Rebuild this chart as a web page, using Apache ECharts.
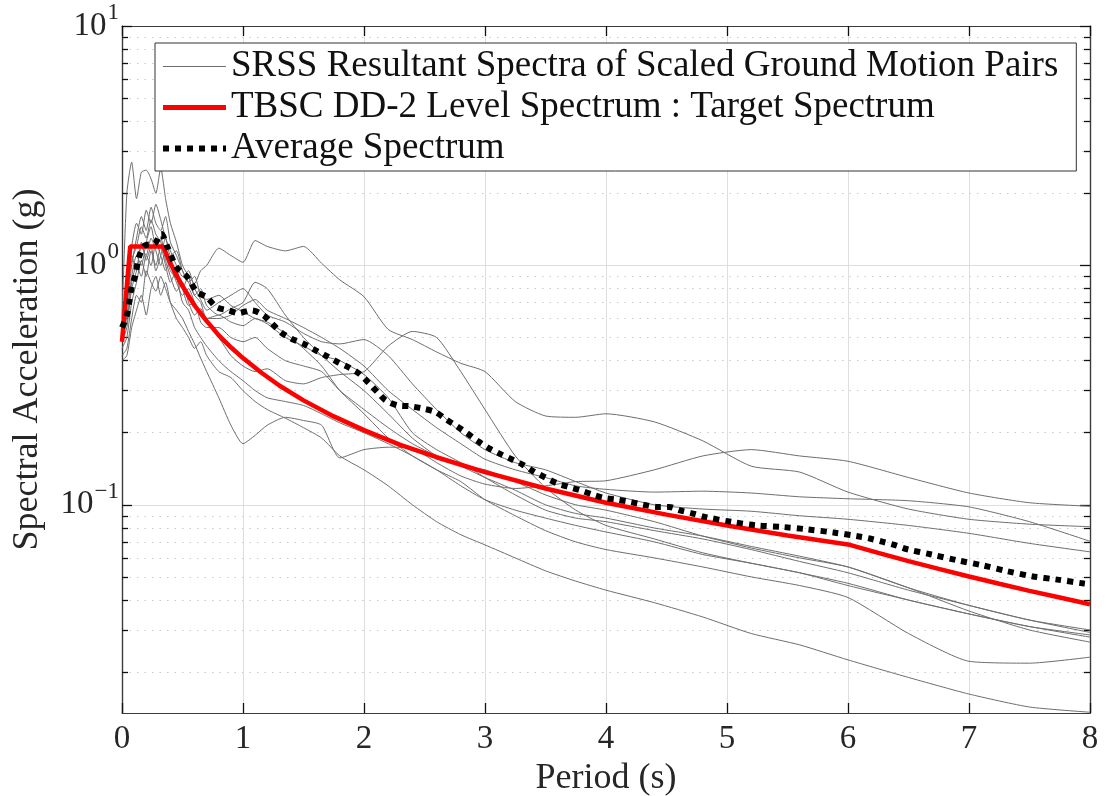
<!DOCTYPE html>
<html><head><meta charset="utf-8">
<script src="https://cdn.jsdelivr.net/npm/echarts@6/dist/echarts.min.js"></script>
<style>html,body{margin:0;padding:0;background:#fff}#c{width:1106px;height:796px}</style>
</head><body><div id="c"></div>
<script>
// ---- data ----
const periods = [0,0.04,0.08,0.12,0.16,0.2,0.24,0.28,0.32,0.36,0.4,0.45,0.5,0.55,0.6,0.65,0.7,0.8,0.9,1.0,1.1,1.2,1.35,1.5,1.65,1.8,2.0,2.2,2.4,2.6,2.8,3.0,3.25,3.5,3.75,4.0,4.4,4.8,5.2,5.6,6.0,6.5,7.0,7.5,8.0];
const gm1  = [0.55,0.75,1.05,1.2,1.45,1.3,1.55,1.35,1.25,1.1,0.95,0.88,0.8,0.9,0.84,0.95,1.0,1.18,1.1,1.03,1.27,1.2,1.15,1.2,1.02,0.87,0.74,0.54,0.49,0.435,0.39,0.36,0.27,0.235,0.232,0.24,0.222,0.185,0.145,0.137,0.113,0.096,0.087,0.083,0.081];
const gm2  = [0.42,0.45,0.6,0.75,0.7,0.95,0.85,0.78,0.9,0.8,0.7,0.65,0.6,0.53,0.47,0.41,0.36,0.28,0.215,0.18,0.195,0.215,0.232,0.225,0.215,0.157,0.17,0.174,0.172,0.15,0.132,0.122,0.117,0.12,0.125,0.126,0.14,0.16,0.17,0.16,0.152,0.13,0.112,0.102,0.0986];
const gm3  = [0.5,0.62,0.9,1.1,1.0,1.25,1.45,1.2,1.3,1.05,0.9,0.78,0.85,0.7,0.62,0.66,0.58,0.5,0.42,0.38,0.36,0.37,0.33,0.32,0.34,0.35,0.36,0.46,0.53,0.5,0.36,0.25,0.16,0.118,0.095,0.082,0.072,0.063,0.057,0.052,0.046,0.04,0.035,0.031,0.0286];
const gm4  = [0.48,0.55,0.8,0.95,1.2,1.1,1.3,1.15,1.0,1.15,1.0,0.85,0.75,0.8,0.7,0.62,0.6,0.6,0.62,0.68,0.72,0.65,0.6,0.55,0.5,0.45,0.38,0.3,0.25,0.21,0.18,0.155,0.14,0.13,0.12,0.116,0.113,0.114,0.112,0.108,0.106,0.104,0.098,0.085,0.0704];
const gm5  = [0.58,0.8,1.2,1.5,1.35,1.7,1.5,1.8,1.55,1.3,1.15,1.0,0.9,0.95,0.8,0.72,0.65,0.7,0.75,0.8,0.7,0.62,0.58,0.52,0.48,0.47,0.49,0.42,0.32,0.25,0.2,0.17,0.15,0.14,0.125,0.112,0.1,0.096,0.094,0.09,0.087,0.082,0.076,0.069,0.0636];
const gm6  = [0.6,2.0,2.7,1.9,2.45,2.5,2.3,2.0,2.55,1.9,1.5,1.25,1.0,0.9,0.75,0.8,0.68,0.62,0.66,0.7,0.85,0.8,0.62,0.5,0.42,0.36,0.3,0.24,0.19,0.16,0.145,0.13,0.115,0.1,0.092,0.088,0.08,0.074,0.067,0.061,0.055,0.045,0.038,0.033,0.030];
const gm7  = [0.45,0.5,0.7,0.85,1.05,0.9,1.15,1.0,1.2,1.0,0.85,0.95,0.8,0.68,0.7,0.58,0.55,0.55,0.5,0.48,0.5,0.45,0.4,0.38,0.36,0.3,0.25,0.21,0.18,0.16,0.145,0.14,0.125,0.11,0.1,0.095,0.085,0.074,0.066,0.06,0.055,0.045,0.036,0.03,0.0267];
const gm8  = [0.52,0.68,1.0,1.3,1.6,1.4,1.75,1.5,1.4,1.6,1.25,1.1,0.95,0.85,0.9,0.75,0.72,0.75,0.68,0.64,0.6,0.58,0.52,0.45,0.38,0.3,0.24,0.19,0.16,0.14,0.125,0.105,0.09,0.078,0.07,0.065,0.06,0.055,0.05,0.046,0.041,0.029,0.0222,0.0218,0.0231];
const gm9  = [0.4,0.42,0.55,0.65,0.75,0.62,0.8,0.9,0.75,0.85,0.7,0.6,0.55,0.5,0.45,0.48,0.42,0.36,0.34,0.3,0.27,0.25,0.23,0.21,0.19,0.16,0.14,0.12,0.1,0.085,0.075,0.068,0.06,0.053,0.048,0.044,0.039,0.034,0.029,0.026,0.0225,0.019,0.0162,0.0143,0.0136];
const gm10 = [0.5,0.58,0.85,1.0,0.9,1.1,1.0,1.25,1.1,0.95,1.05,0.9,0.7,0.65,0.55,0.5,0.46,0.4,0.36,0.33,0.3,0.28,0.27,0.26,0.24,0.22,0.2,0.18,0.16,0.14,0.12,0.105,0.095,0.088,0.082,0.077,0.07,0.062,0.057,0.052,0.047,0.04,0.035,0.031,0.028];
const gm11 = [0.55,0.7,1.1,0.95,1.25,1.05,1.2,0.95,1.1,1.3,1.1,1.15,0.95,0.85,0.75,0.7,0.6,0.62,0.58,0.56,0.6,0.57,0.5,0.46,0.42,0.4,0.35,0.28,0.2,0.17,0.15,0.13,0.11,0.095,0.088,0.085,0.078,0.072,0.065,0.058,0.052,0.044,0.038,0.033,0.0293];
const groundMotions = [gm1,gm2,gm3,gm4,gm5,gm6,gm7,gm8,gm9,gm10,gm11];

const targetPeriods = [0,0.068,0.34,0.375,0.4,0.45,0.5,0.55,0.6,0.65,0.7,0.75,0.8,0.9,1.0,1.15,1.3,1.5,1.75,2.0,2.3,2.6,3.0,3.5,4.0,4.5,5.0,5.5,5.75,6.0,6.25,6.5,6.75,7.0,7.25,7.5,7.75,8.0];
const targetValues  = [0.48,1.2,1.2,1.09,1.02,0.91,0.82,0.745,0.68,0.63,0.585,0.547,0.51,0.455,0.41,0.357,0.315,0.273,0.234,0.205,0.178,0.158,0.137,0.117,0.102,0.091,0.082,0.0745,0.0713,0.0683,0.063,0.0582,0.054,0.0502,0.0468,0.0437,0.041,0.0384];

const avgPeriods = [0,0.04,0.06,0.08,0.11,0.14,0.19,0.27,0.325,0.37,0.45,0.54,0.62,0.7,0.78,0.88,0.96,1.07,1.17,1.24,1.31,1.4,1.5,1.6,1.68,1.78,1.87,1.96,2.04,2.11,2.18,2.28,2.38,2.49,2.59,2.68,2.77,2.85,2.94,3.03,3.12,3.22,3.31,3.4,3.5,3.59,3.69,3.79,3.89,3.99,4.09,4.2,4.31,4.42,4.52,4.61,4.72,4.82,5.04,5.24,5.46,5.66,5.88,6.08,6.18,6.29,6.39,6.49,6.69,6.9,7.11,7.31,7.52,7.73,7.95,8.0];
const avgValues  = [0.55,0.618,0.703,0.812,0.908,1.083,1.212,1.232,1.356,1.212,0.984,0.894,0.774,0.737,0.67,0.649,0.632,0.649,0.618,0.571,0.527,0.494,0.471,0.442,0.421,0.395,0.376,0.353,0.3225,0.296,0.273,0.26,0.258,0.252,0.244,0.227,0.2127,0.1994,0.1847,0.1726,0.1636,0.1549,0.1472,0.138,0.1299,0.1233,0.1187,0.1149,0.1103,0.1068,0.1052,0.1028,0.1,0.098,0.098,0.0948,0.0919,0.089,0.0848,0.0821,0.0808,0.079,0.0766,0.0739,0.0723,0.07,0.0678,0.0652,0.062,0.0587,0.0559,0.0529,0.0503,0.0487,0.0469,0.0466];

const xTickValues = [0,1,2,3,4,5,6,7,8];
const yMajorTicks = [0.1, 1, 10];
const yMinorTicks = [0.02,0.03,0.04,0.05,0.06,0.07,0.08,0.09,0.2,0.3,0.4,0.5,0.6,0.7,0.8,0.9,2,3,4,5,6,7,8,9];
const legendNames = ['SRSS Resultant Spectra of Scaled Ground Motion Pairs','TBSC DD-2 Level Spectrum : Target Spectrum','Average Spectrum'];
const xName = 'Period (s)';
const yName = 'Spectral Acceleration (g)';

// ---- chart ----
const FONT = "'Liberation Serif','Times New Roman',serif";
const TXT = '#262626';
const AX = '#3a3a3a';
const chart = echarts.init(document.getElementById('c'), null, {renderer:'canvas'});

function supLabel(v){
  const l = Math.log10(v), e = Math.round(l);
  if (Math.abs(l - e) > 1e-6) return '';
  return '{b|10}{s|' + (e < 0 ? '\u2212' + (-e) : String(e)) + '}';
}
const yRange = {type:'log', logBase:10, min:0.0135, max:10};
function yAxisDef(pos, ticks, len, showLabel, split){
  return Object.assign({}, yRange, {
    position: pos,
    axisLine: {show:true, lineStyle:{color:AX, width:1.2}},
    axisTick: {show:true, inside:true, length:len, customValues:ticks, lineStyle:{color:'#111', width:1.3}},
    axisLabel: showLabel ? {show:true, customValues:ticks, margin:3, formatter:supLabel,
      rich:{ b:{fontFamily:FONT, fontSize:33, color:TXT, padding:[14,0,14,0]},
             s:{fontFamily:FONT, fontSize:23, color:TXT, verticalAlign:'top', padding:[6,0,0,1]} } } : {show:false},
    splitLine: split,
    minorTick:{show:false}, minorSplitLine:{show:false}
  });
}
const yAxes = [
  yAxisDef('left', yMajorTicks, 10, true, {show:true, lineStyle:{color:'#dedede', width:1}}),
  yAxisDef('left', yMinorTicks, 6, false, {show:true, lineStyle:{color:'#c8c8c8', width:1, type:[1.5,6]}}),
  yAxisDef('right', yMajorTicks, 10, false, {show:false}),
  yAxisDef('right', yMinorTicks, 6, false, {show:false})
];
yAxes[0].name = yName;
yAxes[0].nameLocation = 'middle';
yAxes[0].nameGap = 76;
yAxes[0].nameRotate = 90;
yAxes[0].nameTextStyle = {fontFamily:FONT, fontSize:36, color:TXT};

const series = [];
groundMotions.forEach(function(g){
  series.push({name:legendNames[0], type:'line', symbol:'none', smooth:0.2, z:2,
    lineStyle:{color:'#6e6e6e', width:1}, itemStyle:{color:'#6e6e6e'},
    data: periods.map(function(t,i){return [t, g[i]];})});
});
series.push({name:legendNames[1], type:'line', symbol:'none', smooth:false, z:3,
  lineStyle:{color:'#ff0000', width:4.5}, itemStyle:{color:'#ff0000'},
  data: targetPeriods.map(function(t,i){return [t, targetValues[i]];})});
series.push({name:legendNames[2], type:'line', symbol:'none', smooth:0.3, z:4,
  lineStyle:{color:'#000', width:6, type:[6,6], cap:'butt'}, itemStyle:{color:'#000'},
  data: avgPeriods.map(function(t,i){return [t, avgValues[i]];})});

const hiddenSymbol = {color:'rgba(0,0,0,0)', borderWidth:0, opacity:0};
chart.setOption({
  animation:false,
  backgroundColor:'#fff',
  grid:{left:122, right:16, top:26, bottom:83, containLabel:false, outerBoundsMode:'none'},
  xAxis:[
    {type:'value', position:'bottom', min:0, max:8, interval:1,
     axisLine:{show:true, onZero:false, lineStyle:{color:AX, width:1.2}},
     axisTick:{show:true, inside:true, length:10, lineStyle:{color:'#111', width:1.3}},
     axisLabel:{show:true, margin:10, fontFamily:FONT, fontSize:33, color:TXT,
       formatter:function(v){ return xTickValues.indexOf(v) >= 0 ? String(v) : ''; }},
     splitLine:{show:true, lineStyle:{color:'#dedede', width:1}},
     name:xName, nameLocation:'middle', nameGap:46,
     nameTextStyle:{fontFamily:FONT, fontSize:36, color:TXT}},
    {type:'value', position:'top', min:0, max:8, interval:1,
     axisLine:{show:true, onZero:false, lineStyle:{color:AX, width:1.2}},
     axisTick:{show:true, inside:true, length:10, lineStyle:{color:'#111', width:1.3}},
     axisLabel:{show:false}, splitLine:{show:false}}
  ],
  yAxis: yAxes,
  legend:{
    orient:'vertical', left:155, top:43, z:10,
    padding:[5,18,4,5], itemGap:4, itemWidth:63, itemHeight:14,
    backgroundColor:'#fff', borderColor:'#333', borderWidth:1,
    textStyle:{fontFamily:FONT, fontSize:37, color:'#111'},
    itemStyle: hiddenSymbol,
    selectedMode:false,
    data:[
      {name:legendNames[0], itemStyle:hiddenSymbol, lineStyle:{color:'#6e6e6e', width:1.2}},
      {name:legendNames[1], itemStyle:hiddenSymbol, lineStyle:{color:'#ff0000', width:5}},
      {name:legendNames[2], itemStyle:hiddenSymbol, lineStyle:{color:'#000', width:6, type:[6,6]}}
    ]
  },
  series: series
});
</script></body></html>
